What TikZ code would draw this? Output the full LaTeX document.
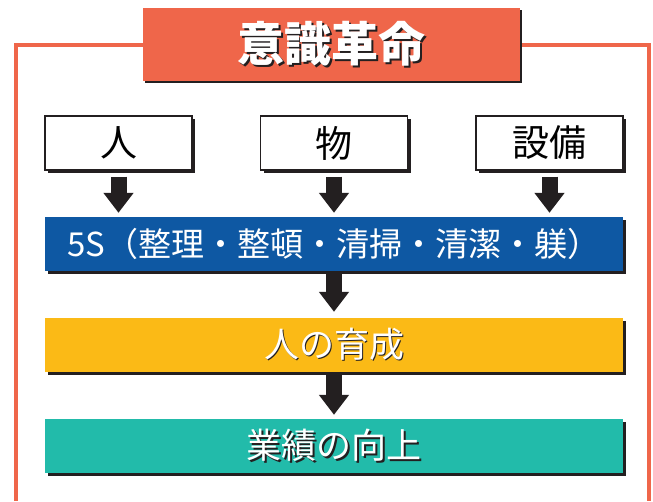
\documentclass[tikz,border=0pt]{standalone}
\usepackage{fontspec}
\newfontfamily\cjk{Noto Sans CJK JP}
\usetikzlibrary{arrows.meta,shadows}
\definecolor{frameor}{RGB}{239,102,74}
\definecolor{blueS}{RGB}{14,88,163}
\definecolor{yelbox}{RGB}{251,186,22}
\definecolor{tealbox}{RGB}{34,187,170}
\definecolor{darkc}{RGB}{35,31,32}
\newcommand\shtext[2]{\leavevmode\rlap{\kern#1\raisebox{-#1}{\textcolor{darkc}{#2}}}#2}
\tikzset{
  band/.style={minimum width=578pt, minimum height=54pt, inner sep=0pt, text=white,
    drop shadow={shadow xshift=3pt, shadow yshift=-3pt, fill=darkc, opacity=1}},
  topbox/.style={draw=darkc, line width=1.1pt, fill=white, minimum width=147pt, minimum height=54pt, inner sep=0pt,
    drop shadow={shadow xshift=3pt, shadow yshift=-3pt, fill=darkc, opacity=1},
    font=\cjk\fontsize{37}{40}\selectfont},
  blockarrow/.style={draw=darkc, line width=16pt, -{Triangle[width=29pt,length=20pt]}},
  frameline/.style={draw=frameor, line width=3.5pt}
}
\begin{document}
\begin{tikzpicture}[x=1pt,y=-1pt]
\useasboundingbox (0,0) rectangle (653,501);
\fill[white] (0,0) rectangle (653,501);
\coordinate (fbl) at (16,501);
\coordinate (ftl) at (16,45);
\coordinate (ftr) at (649,45);
\coordinate (fbr) at (649,501);
\draw[frameline] (fbl) -- (ftl) -- (ftr) -- (fbr);
\node[fill=frameor, minimum width=377pt, minimum height=73pt, inner sep=0pt, text=white,
  drop shadow={shadow xshift=2pt, shadow yshift=-2pt, fill=darkc, opacity=1},
  font=\cjk\bfseries\fontsize{47}{50}\selectfont] (title) at (331.5,44.5) {\shtext{2pt}{意識革命}};
\node[topbox] (hito) at (118.5,143) {人};
\node[topbox] (mono) at (334,143) {物};
\node[topbox] (setsubi) at (549.5,143) {設備};
\node[band, fill=blueS, font=\cjk\fontsize{33}{36}\selectfont] (fives) at (334,244) {5S（整理・整頓・清掃・清潔・躾）};
\node[band, fill=yelbox, font=\cjk\fontsize{35}{38}\selectfont] (ikusei) at (334,345) {\shtext{1.5pt}{人の育成}};
\node[band, fill=tealbox, font=\cjk\fontsize{35}{38}\selectfont] (gyoseki) at (334,446) {\shtext{1.5pt}{業績の向上}};
\draw[blockarrow] ([yshift=-6pt]hito.south) -- ([yshift=4pt]hito.south |- fives.north);
\draw[blockarrow] ([yshift=-6pt]mono.south) -- ([yshift=4pt]mono.south |- fives.north);
\draw[blockarrow] ([yshift=-6pt]setsubi.south) -- ([yshift=4pt]setsubi.south |- fives.north);
\draw[blockarrow] ([yshift=-3pt]fives.south) -- ([yshift=6pt]ikusei.north);
\draw[blockarrow] ([yshift=-3pt]ikusei.south) -- ([yshift=4pt]gyoseki.north);
\end{tikzpicture}
\end{document}
